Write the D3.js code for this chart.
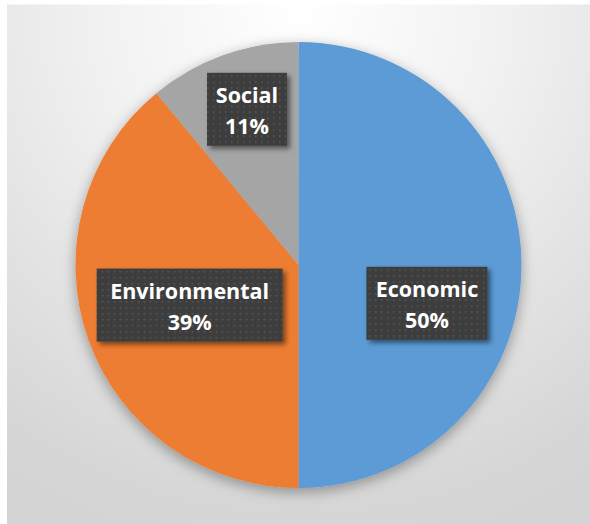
<!DOCTYPE html>
<html>
<head>
<meta charset="utf-8">
<script src="https://cdn.jsdelivr.net/npm/d3@7"></script>
<style>
  html, body { margin: 0; padding: 0; background: #ffffff; }
  svg { display: block; }
</style>
</head>
<body>
<svg id="chart" width="590" height="524"></svg>
<script>
// Share of items by sustainability dimension
const categories = ["Economic", "Environmental", "Social"];
const shares = [50, 39, 11];
const sliceColors = ["#5B9BD5", "#ED7D31", "#A5A5A5"];

// Label placement: distance from the centre, angular nudge (degrees), box width
const labelLayout = {
  Economic:      { radius: 134, nudgeDeg: 16.6, boxWidth: 121 },
  Environmental: { radius: 116, nudgeDeg: -0.4, boxWidth: 186 },
  Social:        { radius: 164, nudgeDeg: 1.5,  boxWidth: 80 }
};

const W = 590, H = 524;
const cx = 298.5, cy = 265, R = 223;

const svg = d3.select("#chart");
const defs = svg.append("defs");

// Background: soft radial wash, white near the top centre fading to grey
const bg = defs.append("radialGradient")
  .attr("id", "bgGrad")
  .attr("gradientUnits", "userSpaceOnUse")
  .attr("cx", 300).attr("cy", 10).attr("r", 590);
bg.append("stop").attr("offset", 0).attr("stop-color", "#ffffff");
bg.append("stop").attr("offset", 0.35).attr("stop-color", "#f1f1f1");
bg.append("stop").attr("offset", 0.85).attr("stop-color", "#d6d6d6");
bg.append("stop").attr("offset", 1).attr("stop-color", "#d3d3d3");

// Soft shadow under the pie
const pieShadow = defs.append("filter").attr("id", "pieShadow")
  .attr("x", "-20%").attr("y", "-20%").attr("width", "140%").attr("height", "140%");
pieShadow.append("feDropShadow")
  .attr("dx", 0).attr("dy", 4).attr("stdDeviation", 7)
  .attr("flood-color", "#000").attr("flood-opacity", 0.35);

// Shadow behind label boxes
const boxShadow = defs.append("filter").attr("id", "boxShadow")
  .attr("x", "-20%").attr("y", "-20%").attr("width", "150%").attr("height", "150%");
boxShadow.append("feDropShadow")
  .attr("dx", 3).attr("dy", 3).attr("stdDeviation", 2.5)
  .attr("flood-color", "#000").attr("flood-opacity", 0.5);

// Dotted texture for the label boxes
const dots = defs.append("pattern")
  .attr("id", "dots").attr("patternUnits", "userSpaceOnUse")
  .attr("width", 6).attr("height", 6);
dots.append("rect").attr("width", 6).attr("height", 6).attr("fill", "#3e3e3e");
dots.append("rect").attr("x", 2).attr("y", 2).attr("width", 1.5).attr("height", 1.5)
  .attr("fill", "#585858");

// Chart area
svg.append("rect")
  .attr("x", 7).attr("y", 4.5)
  .attr("width", W - 7).attr("height", H - 4.5)
  .attr("fill", "url(#bgGrad)");

const data = categories.map((c, i) => ({ name: c, value: shares[i], color: sliceColors[i] }));

const pie = d3.pie().value(d => d.value).sort(null);
const arcs = pie(data);
const arc = d3.arc().innerRadius(0).outerRadius(R);

const g = svg.append("g").attr("transform", `translate(${cx},${cy})`);

g.append("g")
  .attr("filter", "url(#pieShadow)")
  .selectAll("path")
  .data(arcs)
  .join("path")
  .attr("d", arc)
  .attr("fill", d => d.data.color);

// Data labels
const fmt = v => d3.format(".0f")(v) + "%";
const labels = g.append("g").selectAll("g")
  .data(arcs)
  .join("g")
  .attr("transform", d => {
    const L = labelLayout[d.data.name];
    const a = (d.startAngle + d.endAngle) / 2 + L.nudgeDeg * Math.PI / 180;
    return `translate(${L.radius * Math.sin(a)},${-L.radius * Math.cos(a)})`;
  });

labels.append("rect")
  .attr("x", d => -labelLayout[d.data.name].boxWidth / 2)
  .attr("y", -36.5)
  .attr("width", d => labelLayout[d.data.name].boxWidth)
  .attr("height", 73)
  .attr("fill", "url(#dots)")
  .attr("filter", "url(#boxShadow)");

const txt = labels.append("text")
  .attr("text-anchor", "middle")
  .attr("fill", "#ffffff")
  .style("font-family", "'Open Sans', 'Noto Sans', sans-serif")
  .style("font-weight", 700)
  .style("font-size", "21.5px");

txt.append("tspan").attr("x", 0).attr("y", -6.5).text(d => d.data.name);
txt.append("tspan").attr("x", 0).attr("y", 24.5).text(d => fmt(d.data.value));
</script>
</body>
</html>
